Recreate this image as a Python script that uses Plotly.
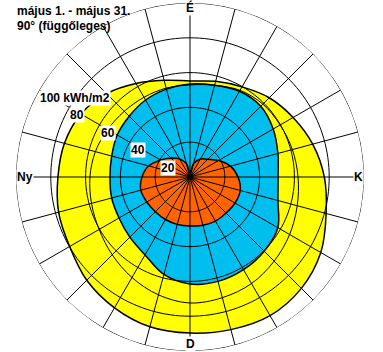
import math
import plotly.graph_objects as go

# ---- data ----
AZIMUTHS = list(range(0, 360, 15))  # degrees, 0 = North (É), clockwise
YELLOW = [55.2, 56.9, 59.8, 64.4, 68.4, 73.0, 77.2, 81.0, 86.8, 90.5, 92.0, 90.8,
          89.7, 89.1, 86.8, 83.9, 79.9, 78.2, 75.9, 74.7, 72.4, 67.8, 62.1, 57.5]
BLUE = [53.4, 54.6, 56.9, 57.5, 55.2, 52.3, 50.6, 52.3, 58.3, 60.3, 61.5, 62.1,
        61.5, 58.0, 51.7, 48.9, 47.1, 46.6, 46.0, 46.6, 48.3, 49.4, 51.1, 52.3]
ORANGE = [2.3, 8.0, 12.0, 14.4, 19.0, 24.1, 27.6, 29.9, 29.9, 29.3, 29.3, 28.7,
          28.2, 28.2, 28.2, 28.2, 28.7, 29.3, 27.6, 24.7, 19.5, 15.5, 12.0, 8.0]
CURVE = [52.9, 54.6, 57.5, 59.2, 59.8, 60.9, 62.1, 63.8, 66.1, 68.4, 70.7, 71.8,
         72.4, 70.1, 66.7, 63.2, 60.3, 58.6, 57.5, 56.3, 54.6, 53.4, 52.9, 52.9]
RINGS = [20, 40, 60, 80, 100]
RING_LABELS = ["20", "40", "60", "80", "100 kWh/m2"]
LABEL_AZ = 300
COMPASS = {"É": 0, "K": 90, "D": 180, "Ny": 270}
TITLE_LINES = ["május 1. - május 31.", "90° (függőleges)"]

W, H = 383, 352
CX, CY, RPX = 190, 177, 174
FONT = "Liberation Sans, Arial, sans-serif"

fig = go.Figure()
th_closed = AZIMUTHS + [360]


def closed(a):
    return list(a) + [a[0]]


for vals, col in [(YELLOW, "#FFFF00"), (BLUE, "#00BFEF"), (ORANGE, "#FF6400")]:
    fig.add_trace(go.Scatterpolar(r=closed(vals), theta=th_closed, mode="lines",
                                  fill="toself", fillcolor=col,
                                  line=dict(color="black", width=1.5, shape="spline"),
                                  hoverinfo="skip", showlegend=False))

fig.add_trace(go.Scatterpolar(r=closed(CURVE), theta=th_closed, mode="lines",
                              line=dict(color="black", width=1, shape="spline"),
                              hoverinfo="skip", showlegend=False))

circ_th = list(range(0, 361, 2))
for v in RINGS:
    fig.add_trace(go.Scatterpolar(r=[v] * len(circ_th), theta=circ_th, mode="lines",
                                  line=dict(color="black", width=1),
                                  hoverinfo="skip", showlegend=False))

rr, tt = [], []
for a in AZIMUTHS:
    rr += [0, RINGS[-1], None]
    tt += [a, a, None]
fig.add_trace(go.Scatterpolar(r=rr, theta=tt, mode="lines",
                              line=dict(color="black", width=1),
                              hoverinfo="skip", showlegend=False))


def to_paper(v, az):
    rp = v / RINGS[-1] * RPX
    x = CX + rp * math.sin(math.radians(az))
    y = CY - rp * math.cos(math.radians(az))
    return x / W, 1 - y / H


ann = []
for v, lab in zip(RINGS, RING_LABELS):
    x, y = to_paper(v, LABEL_AZ)
    ann.append(dict(x=x, y=y, xref="paper", yref="paper", xanchor="left", yanchor="top",
                    text="<b>%s</b>" % lab, showarrow=False, bgcolor="white", borderpad=0,
                    font=dict(family=FONT, size=12, color="black")))

# (xanchor, yanchor, xshift, yshift) in px; yshift > 0 moves up
comp_anchor = {"É": ("center", "middle", 0, -4), "K": ("right", "middle", 0, 0),
               "D": ("center", "middle", 0, 7), "Ny": ("left", "middle", 0, 0)}
for lab, az in COMPASS.items():
    x, y = to_paper(RINGS[-1], az)
    xa, ya, dx, dy = comp_anchor[lab]
    ann.append(dict(x=x, y=y, xref="paper", yref="paper", xanchor=xa, yanchor=ya,
                    xshift=dx, yshift=dy, text="<b>%s</b>" % lab, showarrow=False,
                    bgcolor="white", borderpad=0,
                    font=dict(family=FONT, size=12, color="black")))

for i, t in enumerate(TITLE_LINES):
    ann.append(dict(x=15 / W, y=1 - (2 + 15 * i) / H, xref="paper", yref="paper",
                    xanchor="left", yanchor="top", text="<b>%s</b>" % t, showarrow=False,
                    font=dict(family=FONT, size=12, color="black")))

fig.update_layout(
    width=W, height=H, margin=dict(l=0, r=0, t=0, b=0),
    paper_bgcolor="white", plot_bgcolor="white", showlegend=False,
    polar=dict(
        domain=dict(x=[(CX - RPX) / W, (CX + RPX) / W],
                    y=[1 - (CY + RPX) / H, 1 - (CY - RPX) / H]),
        bgcolor="white",
        radialaxis=dict(range=[0, RINGS[-1]], visible=False),
        angularaxis=dict(rotation=90, direction="clockwise", visible=False),
    ),
    annotations=ann,
)
fig.write_html("out.html")
